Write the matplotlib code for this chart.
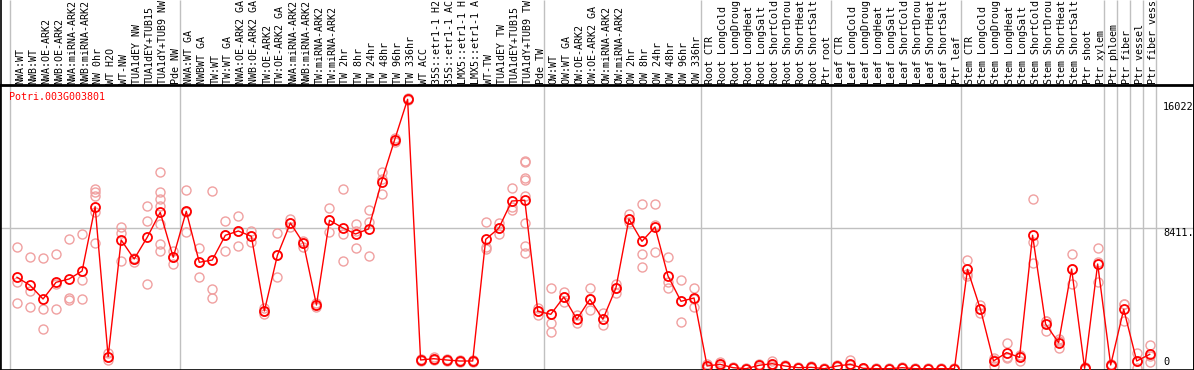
import matplotlib
matplotlib.use("Agg")
import matplotlib.pyplot as plt
from matplotlib.lines import Line2D
from matplotlib.transforms import blended_transform_factory

# Données (Potri.003G003801)

gene_name = "Potri.003G003801"

labels = [
    "NWA:WT", "NWB:WT", "NWA:OE-ARK2", "NWB:OE-ARK2", "NWA:miRNA-ARK2",
    "NWB:miRNA-ARK2", "NW 0hr", "WT H2O", "WT-NW", "TUA1dEY NW",
    "TUA1dEY+TUB15", "TUA1dY+TUB9 NW", "Pde NW", "NWA:WT GA", "NWBWT GA",
    "TW:WT", "TW:WT GA", "NWA:OE-ARK2 GA", "NWB:OE-ARK2 GA", "TW:OE-ARK2",
    "TW:OE-ARK2 GA", "NWA:miRNA-ARK2", "NWB:miRNA-ARK2", "TW:miRNA-ARK2",
    "TW:miRNA-ARK2", "TW 2hr", "TW 8hr", "TW 24hr", "TW 48hr", "TW 96hr",
    "TW 336hr", "WT ACC", "35S::etr1-1 H2", "35S::etr1-1 AC", "LMX5::etr1-1 H",
    "LMX5::etr1-1 A", "WT-TW", "TUA1dEY TW", "TUA1dEY+TUB15", "TUA1dY+TUB9 TW",
    "Pde TW", "OW:WT", "OW:WT GA", "OW:OE-ARK2", "OW:OE-ARK2 GA",
    "OW:miRNA-ARK2", "OW:miRNA-ARK2", "OW 2hr", "OW 8hr", "OW 24hr",
    "OW 48hr", "OW 96hr", "OW 336hr", "Root CTR", "Root LongCold",
    "Root LongDroug", "Root LongHeat", "Root LongSalt", "Root ShortCold",
    "Root ShortDrou", "Root ShortHeat", "Root ShortSalt", "Ptr root",
    "Leaf CTR", "Leaf LongCold", "Leaf LongDroug", "Leaf LongHeat",
    "Leaf LongSalt", "Leaf ShortCold", "Leaf ShortDrou", "Leaf ShortHeat",
    "Leaf ShortSalt", "Ptr leaf", "Stem CTR", "Stem LongCold",
    "Stem LongDroug", "Stem LongHeat", "Stem LongSalt", "Stem ShortCold",
    "Stem ShortDrou", "Stem ShortHeat", "Stem ShortSalt", "Ptr shoot",
    "Ptr xylem", "Ptr phloem", "Ptr fiber", "Ptr vessel", "Ptr fiber vess",
]

# moyennes (ligne rouge)
means = [
    5487, 5013, 4202, 5191, 5386, 5860, 9666, 787, 7695, 6570,
    7854, 9334, 6671, 9393, 6375, 6511, 7973, 8227, 7914, 3492,
    6789, 8701, 7499, 3847, 8861, 8423, 8050, 8346, 11146, 13614,
    16022, 592, 669, 592, 533, 533, 7736, 8387, 10003, 10045,
    3474, 3297, 4321, 3001, 4185, 3001, 4854, 8938, 7618, 8464,
    5564, 4066, 4262, 237, 337, 136, 77, 278, 373, 237,
    136, 160, 77, 237, 337, 100, 77, 77, 136, 77,
    77, 77, 77, 5960, 3593, 533, 1024, 752, 7973, 2723,
    1616, 5978, 100, 6274, 296, 3593, 533, 929,
]

# réplicats (cercles roses)
replicates = [
    [7263, 5191, 3948], [6671, 4676, 3729], [6612, 3611, 2409],
    [6848, 5114, 3611], [7772, 4244, 4143], [8050, 5327, 4202],
    [10713, 10554, 10299, 9370, 7499], [1024, 769, 592],
    [8446, 8091, 6469], [6647, 6570, 6410], [9707, 8819, 5073],
    [11702, 10536, 10104, 9707, 8624, 7458, 7061], [7061, 6688, 6256],
    [10636, 9381, 8150], [7221, 6393, 5487], [10577, 4794, 4244],
    [8819, 7991, 7061], [9115, 8227, 7322], [8245, 7931, 7559],
    [3670, 3492, 3315], [8091, 6777, 5487], [8920, 8701, 8482],
    [7636, 7517, 7280], [3966, 3847, 3729], [9571, 8861, 8150],
    [10695, 8068, 6434], [8624, 8245, 7203], [9453, 8778, 6730],
    [11702, 11305, 10417], [13732, 13614, 13495], [16090, 16022, 15954],
    [651, 592, 533], [740, 669, 592], [651, 592, 533], [592, 533, 474],
    [592, 533, 474], [8760, 7298, 7144], [8683, 8405, 8032],
    [10755, 9630, 9488],
    [12388, 12294, 11347, 11246, 10299, 8683, 7322, 6925],
    [3688, 3474, 3255], [4854, 2764, 2267], [4617, 4321, 4007],
    [3255, 3001, 2782], [4854, 4173, 3534], [3374, 2989, 2646],
    [5090, 4854, 4575], [9251, 8938, 8778], [9826, 6848, 6097],
    [9826, 8583, 6984], [6671, 5226, 4854], [5327, 4055, 2823],
    [4854, 4202, 3729], [355, 237, 118], [444, 337, 237],
    [178, 136, 95], [100, 77, 55], [355, 278, 200], [533, 326, 260],
    [300, 237, 175], [178, 136, 95], [210, 160, 110], [100, 77, 55],
    [300, 237, 175], [592, 300, 120], [130, 100, 70], [100, 77, 55],
    [100, 77, 55], [178, 136, 95], [100, 77, 55], [100, 77, 55],
    [100, 77, 55], [100, 77, 55], [6511, 5682, 5546], [3847, 3593, 3356],
    [728, 592, 255], [1580, 769, 728], [888, 829, 533],
    [10104, 7559, 6316], [2900, 2900, 2308], [1817, 1746, 1284],
    [6848, 5978, 5073], [178, 89, 30], [7203, 6410, 5226],
    [355, 296, 237], [3924, 3907, 2918], [988, 533, 101],
    [1480, 829, 491],
]

# séparateurs de groupes (après l'index indiqué)
group_breaks = [-1, 12, 40, 52, 62, 72, 83, 84, 85, 86, 87]

max_value = 16022
mid_value = 8411


def plot_profile():
    fig = plt.figure(figsize=(11.94, 3.70), dpi=100)
    # zone de tracé : 285 px en bas, en-tête de 85 px au-dessus
    ax = fig.add_axes([0, 0, 1, 285 / 370])
    ax.set_xlim(-17 / 13.02, (1194 - 17) / 13.02)
    ax.set_ylim(0, max_value * 285 / 270.7)
    ax.set_xticks([])
    ax.set_yticks([])
    for side in ["left", "right", "bottom"]:
        ax.spines[side].set_linewidth(1.2)
    ax.spines["top"].set_linewidth(2)

    # bordure gauche/droite dans l'en-tête aussi
    for xf in [0.5 / 1194, 1193.5 / 1194]:
        fig.add_artist(Line2D([xf, xf], [0, 1], transform=fig.transFigure,
                              color="black", lw=1.2))

    ax.axhline(mid_value, color="#c0c0c0", lw=1, zorder=1)

    full = blended_transform_factory(ax.transData, ax.transAxes)
    for b in group_breaks:
        ax.vlines(b + 0.5, 0, 370 / 285, transform=full, color="#c0c0c0",
                  lw=1, clip_on=False, zorder=1)

    # réplicats
    for i, reps in enumerate(replicates):
        ax.plot([i] * len(reps), reps, linestyle="none", marker="o",
                ms=6.5, mfc="none", mec="#f0a0a0", mew=1.0, zorder=2)

    # moyennes
    x = list(range(len(means)))
    ax.plot(x, means, color="red", lw=1, marker="o", ms=6.5, mfc="none",
            mec="red", mew=1.3, zorder=3)

    mono = "DejaVu Sans Mono"
    head = blended_transform_factory(ax.transData, fig.transFigure)
    for i, lab in enumerate(labels):
        fig.text(i + 0.23, (370 - 84) / 370, lab, transform=head,
                 rotation=90, ha="center", va="bottom", fontsize=7.2,
                 family=mono, color="black")

    ax.text(9 / 1194, (370 - 97) / 285, gene_name, transform=ax.transAxes,
            color="red", fontsize=7.2, family=mono, va="center", ha="left")
    for val, ypix in [("16022", 107), ("8411.", 232.7), ("0", 362)]:
        ax.text(1163 / 1194, (370 - ypix) / 285, val, transform=ax.transAxes,
                fontsize=7.4, family=mono, va="center", ha="left")

    fig.savefig("out.png", dpi=100)


if __name__ == "__main__":
    plot_profile()
